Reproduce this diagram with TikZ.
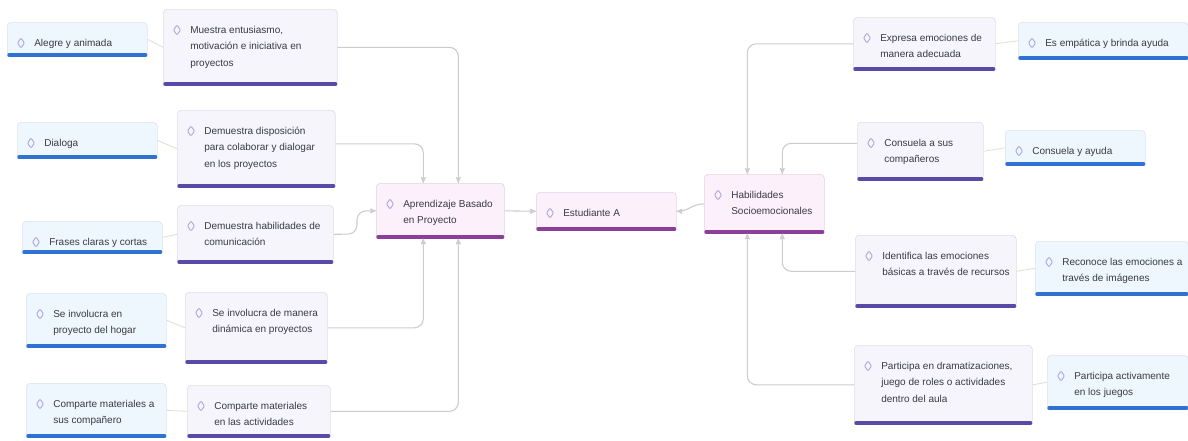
\documentclass[tikz,border=0pt]{standalone}
\usepackage{fontspec}
\setmainfont{Liberation Sans}
\usetikzlibrary{arrows}

\definecolor{ink}{HTML}{3A3A46}
\definecolor{leaffill}{HTML}{EEF6FE}
\definecolor{leafline}{HTML}{DCE4EE}
\definecolor{leafbar}{HTML}{2F72D2}
\definecolor{midfill}{HTML}{F5F5FB}
\definecolor{midline}{HTML}{DEDEE8}
\definecolor{midbar}{HTML}{5A4AA8}
\definecolor{corefill}{HTML}{FCF0FB}
\definecolor{coreline}{HTML}{E6D2E6}
\definecolor{corebar}{HTML}{8C3E99}
\definecolor{gemc}{HTML}{B2A6DC}
\definecolor{wirec}{HTML}{CDCDCD}
\definecolor{twigc}{HTML}{E6DCCF}

\tikzset{
  bw/.store in=\bw, bh/.store in=\bh,
  card/.style={draw=#1, line width=0.6pt, rounded corners=4pt, inner sep=0pt,
    anchor=north west, text=ink, font=\fontsize{10}{16.5}\selectfont,
    execute at begin node={\begin{minipage}[t][\bh pt][t]{\bw pt}\raggedright\leftskip=27pt\vspace*{16.5pt}},
    execute at end node={\end{minipage}}},
  leaf/.style={card=leafline, fill=leaffill},
  mid/.style={card=midline, fill=midfill},
  core/.style={card=coreline, fill=corefill},
  wire/.style={draw=wirec, line width=1.1pt, rounded corners=9pt, ->, >=stealth'},
  twig/.style={draw=twigc, line width=0.8pt},
  gem/.style={draw=gemc, line width=0.9pt, rounded corners=1pt},
  bar/.style={line width=3.5pt, line cap=round, draw=#1},
}

\begin{document}
\begin{tikzpicture}[x=1pt,y=-1pt]
  \useasboundingbox[fill=white] (0,0) rectangle (1188,440);

  % centre
  \node[core, bw=128, bh=55] (abp) at (376,183) {Aprendizaje Basado\\en Proyecto};
  \node[core, bw=140, bh=38] (est) at (536,192) {Estudiante A};
  \node[core, bw=120, bh=59] (hab) at (704,174) {Habilidades\\Socioemocionales};

  % left branch
  \node[mid, bw=174, bh=76] (m1) at (163,9) {Muestra entusiasmo,\\motivación e iniciativa en\\proyectos};
  \node[mid, bw=158, bh=77] (m2) at (177,110) {Demuestra disposición\\para colaborar y dialogar\\en los proyectos};
  \node[mid, bw=156, bh=58] (m3) at (177,205) {Demuestra habilidades de\\comunicación};
  \node[mid, bw=142, bh=71] (m4) at (185,292) {Se involucra de manera\\dinámica en proyectos};
  \node[mid, bw=143, bh=52] (m5) at (187,385) {Comparte materiales\\en las actividades};

  \node[leaf, bw=140, bh=34] (l1) at (7,22) {Alegre y animada};
  \node[leaf, bw=140, bh=36] (l2) at (17,122) {Dialoga};
  \node[leaf, bw=140, bh=32] (l3) at (22,221) {Frases claras y cortas};
  \node[leaf, bw=140, bh=54] (l4) at (26,293) {Se involucra en\\proyecto del hogar};
  \node[leaf, bw=140, bh=54] (l5) at (26,383) {Comparte materiales a\\sus compañero};

  % right branch
  \node[mid, bw=142, bh=53] (r1) at (853,17) {Expresa emociones de\\manera adecuada};
  \node[mid, bw=126, bh=58] (r2) at (857,122) {Consuela a sus\\compañeros};
  \node[mid, bw=161, bh=72] (r3) at (855,235) {Identifica las emociones\\básicas a través de recursos};
  \node[mid, bw=178, bh=79] (r4) at (854,345) {Participa en dramatizaciones,\\juego de roles o actividades\\dentro del aula};

  \node[leaf, bw=170, bh=37] (e1) at (1018,22) {Es empática y brinda ayuda};
  \node[leaf, bw=140, bh=35] (e2) at (1005,130) {Consuela y ayuda};
  \node[leaf, bw=153, bh=54] (e3) at (1035,241) {Reconoce las emociones a\\través de imágenes};
  \node[leaf, bw=141, bh=54] (e4) at (1047,355) {Participa activamente\\en los juegos};

  % bars and icons
  \foreach \n in {l1,l2,l3,l4,l5,e1,e2,e3,e4}
    \draw[bar=leafbar] ([xshift=2pt,yshift=1.5pt]\n.south west) -- ([xshift=-2pt,yshift=1.5pt]\n.south east);
  \foreach \n in {m1,m2,m3,m4,m5,r1,r2,r3,r4}
    \draw[bar=midbar] ([xshift=2pt,yshift=1.5pt]\n.south west) -- ([xshift=-2pt,yshift=1.5pt]\n.south east);
  \foreach \n in {abp,est,hab}
    \draw[bar=corebar] ([xshift=2pt,yshift=1.5pt]\n.south west) -- ([xshift=-2pt,yshift=1.5pt]\n.south east);
  \foreach \n in {l1,l2,l3,l4,l5,e1,e2,e3,e4,m1,m2,m3,m4,m5,r1,r2,r3,r4,abp,est,hab}
    \draw[gem] ([shift={(14,21)}]\n.north west) +(0,-5) -- +(3.5,0) -- +(0,5) -- +(-3.5,0) -- cycle;

  % connectors
  \draw[wire] (m1.east) -| ([xshift=18pt]abp.north);
  \draw[wire] ([yshift=5pt]m2.east) -| ([xshift=-17pt]abp.north);
  \draw[wire] (m3.east) -- (357,234) |- (abp.west);
  \draw[wire] (m4.east) -| ([xshift=-17pt]abp.south);
  \draw[wire] (m5.east) -| ([xshift=18pt]abp.south);
  \draw[wire] (abp.east) -- (est.west);
  \draw[wire] (hab.west) to[out=180,in=0] (est.east);
  \draw[wire] (r1.west) -| ([xshift=-17pt]hab.north);
  \draw[wire] ([yshift=8pt]r2.west) -| ([xshift=18pt]hab.north);
  \draw[wire] (r3.west) -| ([xshift=18pt]hab.south);
  \draw[wire] (r4.west) -| ([xshift=-17pt]hab.south);

  \draw[twig] (l1.east) -- (m1.west);
  \draw[twig] (l2.east) -- (m2.west);
  \draw[twig] (l3.east) -- (m3.west);
  \draw[twig] (l4.east) -- (m4.west);
  \draw[twig] (l5.east) -- (m5.west);
  \draw[twig] (r1.east) -- (e1.west);
  \draw[twig] (r2.east) -- (e2.west);
  \draw[twig] (r3.east) -- (e3.west);
  \draw[twig] (r4.east) -- (e4.west);
\end{tikzpicture}
\end{document}
